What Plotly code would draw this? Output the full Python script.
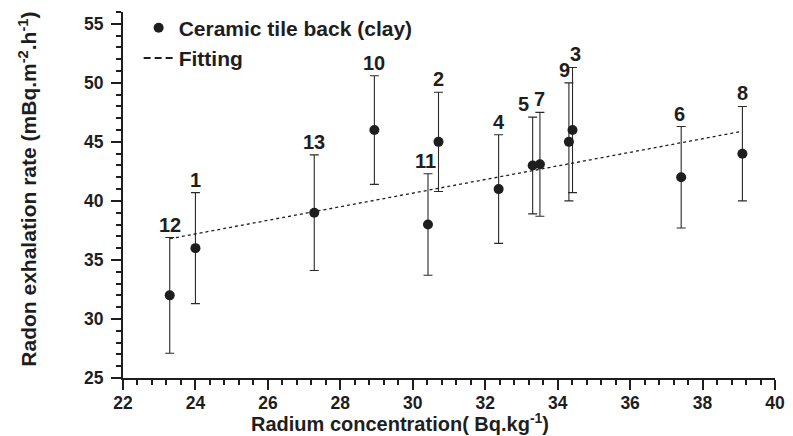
import plotly.graph_objects as go

# ---- data ----
sample_ids = ["12", "1", "13", "10", "11", "2", "4", "5", "7", "9", "3", "6", "8"]
radium = [23.29, 24.0, 27.28, 28.94, 30.42, 30.71, 32.37, 33.31, 33.51, 34.31, 34.41, 37.41, 39.1]
exhalation = [32.0, 36.0, 39.0, 46.0, 38.0, 45.0, 41.0, 43.0, 43.1, 45.0, 46.0, 42.0, 44.0]
err_plus = [4.9, 4.7, 4.9, 4.6, 4.3, 4.2, 4.6, 4.1, 4.4, 5.0, 5.3, 4.3, 4.0]
err_minus = [4.9, 4.7, 4.9, 4.6, 4.3, 4.2, 4.6, 4.1, 4.4, 5.0, 5.3, 4.3, 4.0]
fit_x = [23.3, 39.1]
fit_y = [36.8, 45.9]

x_ticks = [22, 24, 26, 28, 30, 32, 34, 36, 38, 40]
y_ticks = [25, 30, 35, 40, 45, 50, 55]

# label nudges (style only)
label_xshift = {"5": -9, "9": -4, "3": 3, "11": -2, "6": -2}

FONT = "Liberation Sans, Arial, sans-serif"
INK = "#1e1e1e"

fig = go.Figure()

fig.add_trace(go.Scatter(
    x=radium, y=exhalation, mode="markers",
    name="<b>Ceramic tile back (clay)</b>",
    marker=dict(color=INK, size=10, symbol="circle"),
    error_y=dict(type="data", symmetric=False, array=err_plus, arrayminus=err_minus,
                 color="#2a2a2a", thickness=1.1, width=4.5),
))

# fitted line (dotted in the plot)
fig.add_trace(go.Scatter(
    x=fit_x, y=fit_y, mode="lines", name="<b>Fitting</b>", showlegend=False,
    legendgroup="fit",
    line=dict(color=INK, width=1.3, dash="dot"),
))
# legend entry for the fit, drawn with short dashes as in the reference legend
fig.add_trace(go.Scatter(
    x=[None], y=[None], mode="lines", name="<b>Fitting</b>", legendgroup="fit",
    line=dict(color=INK, width=2, dash="7px,4px"),
))

for sid, xv, yv, ep in zip(sample_ids, radium, exhalation, err_plus):
    fig.add_annotation(
        x=xv, y=yv + ep, xref="x", yref="y", text=f"<b>{sid}</b>", showarrow=False,
        xanchor="center", yanchor="middle", yshift=13, xshift=label_xshift.get(sid, 0),
        font=dict(family=FONT, size=20, color=INK),
    )

fig.add_annotation(
    x=0.4255, y=-0.122, xref="paper", yref="paper", showarrow=False,
    text="<b>Radium concentration( Bq.kg<sup>-1</sup>)</b>",
    xanchor="center", yanchor="middle",
    font=dict(family=FONT, size=20, color=INK),
)
fig.add_annotation(
    x=-0.147, y=0.515, xref="paper", yref="paper", showarrow=False, textangle=-90,
    text="<b>Radon exhalation rate (mBq.m<sup>-2</sup>.h<sup>-1</sup>)</b>",
    xanchor="center", yanchor="middle",
    font=dict(family=FONT, size=21, color=INK),
)

axis_common = dict(
    showgrid=False, zeroline=False, showline=True, linecolor=INK, linewidth=2.2,
    ticks="outside", ticklen=10, tickwidth=2, tickcolor=INK,
    tickfont=dict(family=FONT, size=17.5, color=INK),
)

fig.update_layout(
    width=793, height=436,
    margin=dict(l=123, r=12, t=8, b=58),
    paper_bgcolor="white", plot_bgcolor="white",
    font=dict(family=FONT, color=INK),
    showlegend=True,
    legend=dict(x=0.024, y=1.012, xanchor="left", yanchor="top",
                bgcolor="rgba(0,0,0,0)", font=dict(family=FONT, size=21, color=INK),
                tracegroupgap=0, itemwidth=30),
    xaxis=dict(range=[22, 40], tickvals=x_ticks, ticktext=[f"<b>{v}</b>" for v in x_ticks],
               minor=dict(dtick=0.4, tick0=22, ticks="outside", ticklen=5, tickwidth=1.5, tickcolor=INK),
               ticklabelstandoff=-2, **axis_common),
    yaxis=dict(range=[25, 56], tickvals=y_ticks, ticktext=[f"<b>{v}</b>" for v in y_ticks],
               minor=dict(dtick=1, tick0=25, ticks="outside", ticklen=5, tickwidth=1.5, tickcolor=INK),
               ticklabelstandoff=4, **axis_common),
)

fig.write_html(
    "out.html",
    config={"displayModeBar": False},
    post_script="document.body.style.margin='0';document.body.style.overflow='hidden';",
)
